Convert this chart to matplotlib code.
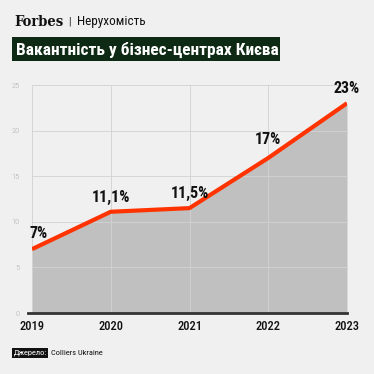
import matplotlib.pyplot as plt
from matplotlib.patches import Rectangle

years = ['2019', '2020', '2021', '2022', '2023']
vacancy = [7, 11.1, 11.5, 17, 23]
labels = ['7%', '11,1%', '11,5%', '17%', '23%']
yticks = [0, 5, 10, 15, 20, 25]

plt.rcParams['font.family'] = ['Roboto Condensed', 'DejaVu Sans']

bg = '#f0f0f0'
W, H = 374, 374
fig = plt.figure(figsize=(W / 100, H / 100), dpi=100, facecolor=bg)
ax = fig.add_axes([32 / W, 1 - 313 / H, (347 - 32) / W, (313 - 85) / H])
ax.set_facecolor(bg)

x = list(range(len(years)))
ax.fill_between(x, vacancy, 0, color='#c0c0c0', zorder=1, lw=0)
ax.plot(x, vacancy, color='#ff3300', lw=3, zorder=3, solid_capstyle='butt')

# label placement (points offset above each point)
lift = [6, 5, 5, 8, 5]
for i, (v, t) in enumerate(zip(vacancy, labels)):
    ha = 'left' if i == 0 else 'center'
    dx = -1.5 if i == 0 else 0
    ax.annotate(t, (i, v), xytext=(dx, lift[i]), textcoords='offset points',
                ha=ha, va='bottom', fontsize=11.5, fontweight='bold', color='#111111')

ax.set_xlim(0, 4)
ax.set_ylim(0, 25)
ax.set_yticks(yticks)
ax.set_xticks(x)
ax.set_xticklabels(years, fontsize=9, color='#111111', fontweight='medium')
ax.set_yticklabels([str(t) for t in yticks], fontsize=6, color='#b0b0b0', fontweight='light')
ax.tick_params(axis='both', length=0)
ax.tick_params(axis='x', pad=5)
ax.tick_params(axis='y', pad=9)
ax.grid(True, color='#d2d2d2', lw=0.6, zorder=2)
ax.set_axisbelow(False)
for s in ax.spines.values():
    s.set_visible(False)
ax.plot([-0.05, 4], [0, 0], color='#333333', lw=2, clip_on=False, zorder=4)

# header
fig.text(14 / W, 1 - 22 / H, 'Forbes', fontsize=10.5, fontweight='bold',
         family='DejaVu Serif', fontstretch='condensed', va='center', ha='left', color='#111111')
fig.text(68 / W, 1 - 22 / H, '|', fontsize=7, va='center', ha='left', color='#111111')
fig.text(77 / W, 1 - 22 / H, 'Нерухомість', fontsize=9.5, va='center', ha='left', color='#111111')
fig.add_artist(Rectangle((12 / W, 1 - 61 / H), (280 - 12) / W, 24 / H,
                         transform=fig.transFigure, fc='#0e2a14', ec='none'))
fig.text(16 / W, 1 - 49.5 / H, 'Вакантність у бізнес-центрах Києва', fontsize=12.5,
         fontweight='bold', color='white', va='center', ha='left')

# source
fig.add_artist(Rectangle((12 / W, 1 - 358 / H), 36 / W, 10 / H,
                         transform=fig.transFigure, fc='#111111', ec='none'))
fig.text(13.5 / W, 1 - 353 / H, 'Джерело:', fontsize=6, color='white', va='center', ha='left')
fig.text(51 / W, 1 - 353 / H, 'Colliers Ukraine', fontsize=6, color='#111111', va='center', ha='left')

fig.savefig('out.png', dpi=100, facecolor=bg)
